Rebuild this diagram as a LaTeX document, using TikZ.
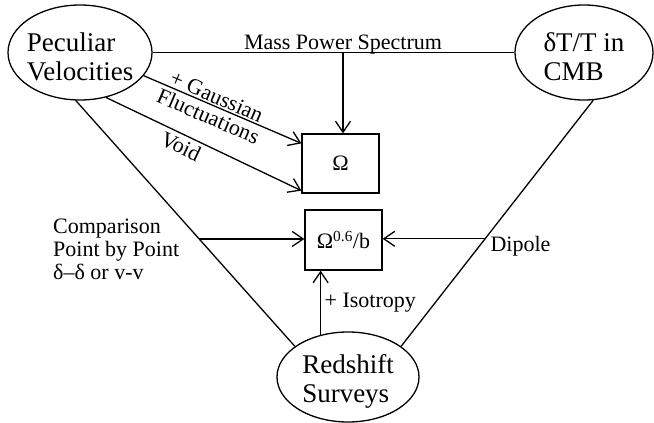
\documentclass[tikz,border=0pt]{standalone}
\usepackage{fontspec}
\setmainfont{Liberation Serif}
\usetikzlibrary{shapes,arrows.meta,positioning,calc}

\begin{document}
\begin{tikzpicture}[
    x=1pt, y=-1pt,
    every node/.style={font=\fontsize{22}{23.3}\selectfont},
    source/.style={ellipse, draw, line width=1.3pt, inner xsep=-8pt, inner ysep=0pt, align=left, text height=57pt, font=\fontsize{27}{29}\selectfont},
    result/.style={rectangle, draw, line width=1.3pt, minimum width=77pt, minimum height=60pt},
    link/.style={line width=1.3pt},
    arrow/.style={-{Straight Barb[length=11pt,width=15pt]}, line width=1.3pt}
]
\useasboundingbox (0,0) rectangle (654,423);

% Sources
\node[source, minimum width=144pt, minimum height=95pt] (pv) at (80,52.5) {Peculiar\\Velocities};
\node[source, minimum width=138pt, minimum height=95pt] (cmb) at (584,52.5) {δT/T in\\CMB};
\node[source, minimum width=142pt, minimum height=90pt] (rs) at (348,377) {Redshift\\Surveys};

% Results
\node[result, minimum height=59pt] (omega) at (340.5,163.5) {Ω};
\node[result] (omb) at (343.5,240) {Ω\textsuperscript{0.6}/b};

% Mass power spectrum
\draw[link] (pv) -- (cmb);
\coordinate (msp) at (343,52.5);
\node[anchor=base] (msplbl) at (343,49.5) {Mass Power Spectrum};
\draw[arrow] (msp) -- (msp |- omega.north);

% Velocities to Omega
\draw[arrow] (pv.-20) -- node[sloped, above, pos=0.44, inner sep=1.5pt] (gauss) {+ Gaussian}
    node[sloped, below, pos=0.44] (fluct) {Fluctuations} ($(omega.north west)+(0,10)$);
\draw[arrow] (pv.-60) -- node[sloped, below, pos=0.41] (void) {Void} ($(omega.south west)+(0,-3)$);

% Triangle sides
\draw[link] (pv.-95) -- coordinate[pos=0.563] (cmp) (rs.150);
\draw[link] (cmb.-79) -- coordinate[pos=0.563] (dip) (rs.30);

% Omega^0.6/b
\draw[arrow] (cmp) -- (cmp -| omb.west);
\node[align=left, anchor=north west, inner sep=0pt] (cmplbl) at (53,218.5) {Comparison\\Point by Point\\δ–δ or v-v};
\draw[arrow] (dip) -- (dip -| omb.east);
\node[anchor=west] (diplbl) at ($(dip)+(2,7)$) {Dipole};
\draw[arrow] (rs.123) -- node[right] (isolbl) {+ Isotropy} (rs.123 |- omb.south);

\end{tikzpicture}
\end{document}
